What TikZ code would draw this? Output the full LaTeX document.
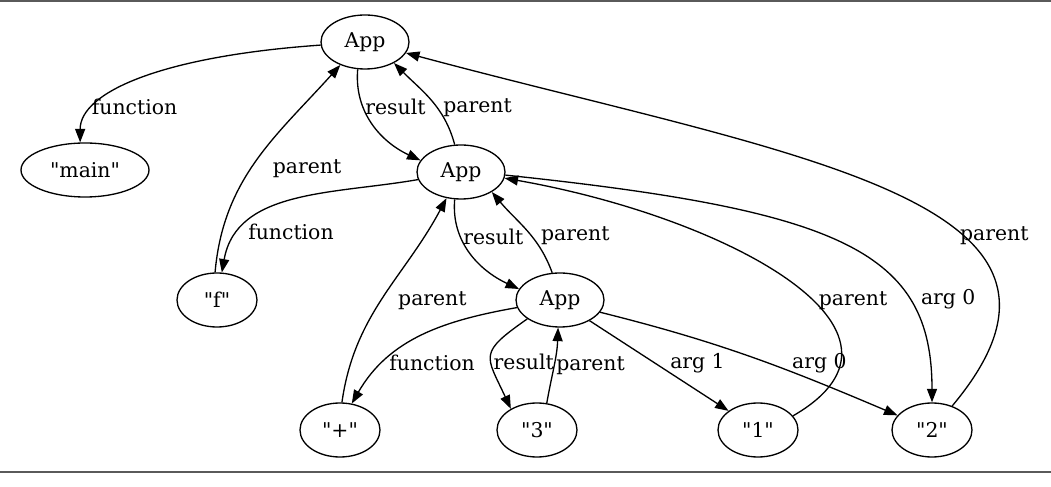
\documentclass[tikz,border=0pt]{standalone}
\usepackage{fontspec}
\setmainfont{DejaVu Serif}
\usetikzlibrary{shapes.geometric,arrows.meta,positioning}
\definecolor{frgray}{HTML}{5A5A5A}
\newcommand{\dq}{\textquotedbl}

\begin{document}
\begin{tikzpicture}[
  app/.style={ellipse, draw, line width=0.75pt, minimum width=1.76cm, minimum height=1.08cm,
              inner sep=0pt, font=\fontsize{11.6}{13}\selectfont},
  lit/.style={app, minimum width=1.6cm},
  lab/.style={font=\fontsize{11.6}{13}\selectfont, inner sep=1pt, anchor=west},
  arr/.style={-{Triangle[length=2.7mm,width=2mm]}, line width=0.75pt},
  on grid
]
\useasboundingbox (0,0) rectangle (21.02,-9.74);
\draw[frgray, line width=1.1pt] (0,-0.02) -- (21.02,-0.02);
\draw[frgray, line width=1.1pt] (0,-9.44) -- (21.02,-9.44);

\node[app] (app1) at (7.30,-0.84) {App};
\node[lit, minimum width=2.56cm, below left=2.56cm and 5.60cm of app1] (main) {\dq main\dq};
\node[app, below right=2.60cm and 1.92cm of app1] (app2) {App};
\node[lit, below left=2.56cm and 4.88cm of app2] (f) {\dq f\dq};
\node[app, below right=2.56cm and 1.98cm of app2] (app3) {App};
\node[lit, below left=2.60cm and 4.40cm of app3] (plus) {\dq +\dq};
\node[lit, below left=2.60cm and 0.46cm of app3] (three) {\dq 3\dq};
\node[lit, below right=2.60cm and 3.96cm of app3] (one) {\dq 1\dq};
\node[lit, right=3.48cm of one] (two) {\dq 2\dq};

% top App
\draw[arr] (app1.184) to[out=184,in=90,out distance=3.2cm,in distance=1cm]
  node[lab,pos=0.74,xshift=-0.14cm]{function} (main.100);
\draw[arr] (app1.255) to[out=265,in=155] node[lab,pos=0.32]{result} (app2.164);
\draw[arr] (app2.103) to[out=105,in=-45] node[lab,pos=0.4,xshift=0.08cm]{parent} (app1.-36);
\draw[arr] (f.94) to[out=85,in=-132] node[lab,pos=0.45,xshift=0.4cm]{parent} (app1.223);
% middle App
\draw[arr] (app2.190) to[out=190,in=80] node[lab,pos=0.8,xshift=0.12cm]{function} (f.80);
\draw[arr] (app2.257) to[out=265,in=155] node[lab,pos=0.33]{result} (app3.165);
\draw[arr] (app3.106) to[out=110,in=-50] node[lab,pos=0.42,xshift=0.15cm]{parent} (app2.-33);
\draw[arr] (plus.86) to[out=82,in=-118] node[lab,pos=0.48,xshift=0.3cm]{parent} (app2.241);
% bottom App
\draw[arr] (app3.190) to[out=190,in=60] node[lab,pos=0.75,xshift=0.08cm]{function} (plus.66);
\draw[arr] (app3.210) to[out=215,in=115,out distance=1.2cm,in distance=1.2cm]
  node[lab,pos=0.58]{result} (three.141);
\draw[arr] (three.70) to[out=80,in=-92] node[lab,pos=0.5]{parent} (app3.-94);
\draw[arr] (app3.-35) -- node[lab,pos=0.47,xshift=0.26cm]{arg 1} (one.147);
\draw[arr] (app3.-17) to[out=-14,in=157] node[lab,pos=0.73,anchor=south,xshift=0.1cm,yshift=0.1cm]{arg 0} (two.157);
% long parent / arg edges
\draw[arr] (one.22) to[out=30,in=-10,out distance=3.4cm,in distance=4.5cm]
  node[lab,pos=0.45,xshift=0.24cm,yshift=-0.16cm]{parent} (app2.-8);
\draw[arr] (app2.-4) to[out=-6,in=90,out distance=6.8cm,in distance=3cm]
  node[lab,pos=0.72,xshift=0.22cm]{arg 0} (two.90);
\draw[arr] (two.50) to[out=50,in=-15,out distance=5.4cm,in distance=8cm]
  node[lab,pos=0.36,xshift=-0.12cm]{parent} (app1.-15);
\end{tikzpicture}
\end{document}
